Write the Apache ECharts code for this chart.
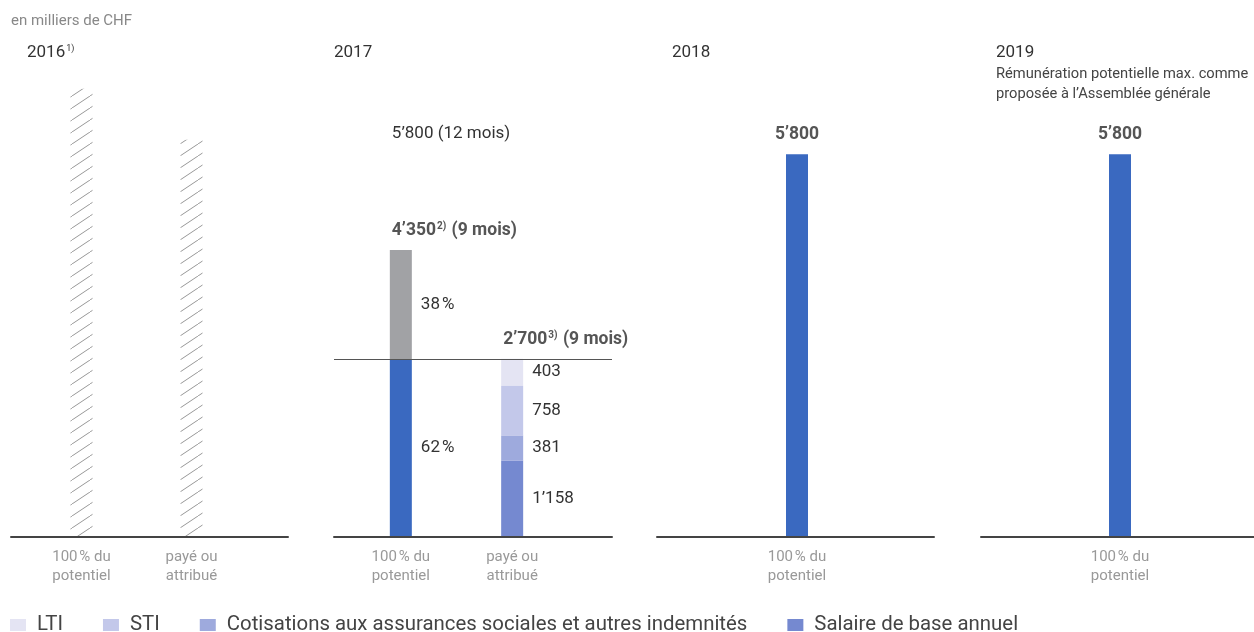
<!DOCTYPE html>
<html>
<head>
<meta charset="utf-8">
<script src="https://cdn.jsdelivr.net/npm/echarts@6/dist/echarts.min.js"></script>
<style>
  html, body { margin: 0; padding: 0; background: #fff; }
  #chart { width: 1254px; height: 632px; }
</style>
</head>
<body>
<div id="chart"></div>
<script>
// categories
const catsTwo = ['100\u202F% du\npotentiel', '', 'payé ou\nattribué'];
const catsOne = ['100\u202F% du\npotentiel'];

// 2016 (hachuré)
const hatch2016 = [6790, null, 6020];

// 2017 potentiel (base / variable) et payé
const potBase2017 = [2697, null, null];
const potVar2017 = [1653, null, null];
const full2017 = [5800, null, null];
const paidSalaire = [null, null, 1158];
const paidCotis = [null, null, 381];
const paidSTI = [null, null, 758];
const paidLTI = [null, null, 403];
const notes2017 = ['2)', '', '3)'];

// 2018 / 2019
const pot2018 = [5800];
const pot2019 = [5800];

const legendNames = ['LTI', 'STI', 'Cotisations aux assurances sociales et autres indemnités', 'Salaire de base annuel'];

const FONT = 'Roboto';
const Y_MAX = 7000;

function fmt(v) {
    return String(v).replace(/\B(?=(\d{3})+(?!\d))/g, '\u2019');
}

// totaux calculés à partir des données
const totals2017 = [0, 1, 2].map(i => {
    const parts = [potBase2017[i], potVar2017[i], paidSalaire[i], paidCotis[i], paidSTI[i], paidLTI[i]];
    const vals = parts.filter(v => v != null);
    return vals.length ? vals.reduce((a, b) => a + b, 0) : null;
});
const paidTotal = totals2017[2];

// motif hachuré
const hatch = document.createElement('canvas');
hatch.width = 18;
hatch.height = 12;
const hctx = hatch.getContext('2d');
hctx.strokeStyle = '#999';
hctx.lineWidth = 1;
hctx.beginPath();
hctx.moveTo(0, 12);
hctx.lineTo(18, 0);
hctx.stroke();

const TOP = 75, HEIGHT = 462;
const grids = [
    {left: 11, width: 277},   // 0 axe 2016
    {left: 54, width: 165},   // 1 barres 2016
    {left: 334, width: 278},  // 2 axe 2017
    {left: 373, width: 167},  // 3 barres 2017
    {left: 657, width: 277},  // 4 axe 2018
    {left: 747, width: 100},  // 5 barres 2018
    {left: 981, width: 273},  // 6 axe 2019
    {left: 1070, width: 100}  // 7 barres 2019
].map(g => Object.assign({top: TOP, height: HEIGHT}, g));

const xAxes = [];
const yAxes = [];
grids.forEach((g, i) => {
    const isAxis = i % 2 === 0;
    if (isAxis) {
        xAxes.push({
            gridIndex: i, type: 'category', data: [''], z: 5,
            axisLine: {lineStyle: {color: '#444', width: 2}},
            axisTick: {show: false}, axisLabel: {show: false}
        });
    } else {
        xAxes.push({
            gridIndex: i, type: 'category',
            data: (i === 1 || i === 3) ? catsTwo : catsOne,
            axisLine: {show: false}, axisTick: {show: false},
            axisLabel: {color: '#999', fontSize: 15, lineHeight: 19, margin: 11, fontFamily: FONT, interval: 0}
        });
    }
    yAxes.push({gridIndex: i, type: 'value', min: 0, max: Y_MAX, show: false});
});

const valLabel = {fontFamily: FONT, fontSize: 17, color: '#333'};
const boldLabel = {fontFamily: FONT, fontSize: 17.5, fontWeight: 'bold', color: '#555'};

const pctFmt = p => Math.round(p.value / totals2017[p.dataIndex] * 100) + '\u202F%';

const seg = (name, data, color, fmtFn) => ({
    name, type: 'bar', xAxisIndex: 3, yAxisIndex: 3, stack: 'a', barWidth: 22, barGap: '-100%',
    data, itemStyle: {color},
    label: Object.assign({show: true, position: 'right', distance: 9, formatter: fmtFn || (p => fmt(p.value))}, valLabel)
});

const series = [
    // 2016
    {
        type: 'bar', xAxisIndex: 1, yAxisIndex: 1, barWidth: 22, data: hatch2016,
        itemStyle: {color: {image: hatch, repeat: 'repeat'}}
    },
    // 2017 ligne de référence
    {
        type: 'line', xAxisIndex: 2, yAxisIndex: 2, data: [],
        markLine: {
            silent: true, symbol: 'none', label: {show: false},
            lineStyle: {color: '#555', width: 1, type: 'solid'},
            data: [{yAxis: paidTotal}]
        }
    },
    // 2017 potentiel
    seg('base', potBase2017, '#3a69c0', pctFmt),
    seg('variable', potVar2017, '#a1a2a5', pctFmt),
    // 2017 payé
    seg(legendNames[3], paidSalaire, '#7589d0'),
    seg(legendNames[2], paidCotis, '#9eaadd'),
    seg(legendNames[1], paidSTI, '#c3c8ea'),
    seg(legendNames[0], paidLTI, '#e4e4f3'),
    // totaux (barre de hauteur nulle au sommet de la pile)
    {
        name: 'total', type: 'bar', xAxisIndex: 3, yAxisIndex: 3, stack: 'a', barWidth: 22, barGap: '-100%',
        data: totals2017.map(t => t == null ? null : 0),
        itemStyle: {color: 'transparent'},
        label: {
            show: true, position: [2, -19], align: 'left', verticalAlign: 'middle',
            formatter: p => '{b|' + fmt(totals2017[p.dataIndex]) + '}{s|' + notes2017[p.dataIndex] + '}{b| (9 mois)}',
            rich: {
                b: boldLabel,
                s: {fontFamily: FONT, fontSize: 10, fontWeight: 'bold', color: '#555', verticalAlign: 'top', padding: [0, 1, 8, 1]}
            }
        }
    },
    // 2017 12 mois (invisible)
    {
        type: 'bar', xAxisIndex: 3, yAxisIndex: 3, barWidth: 22, barGap: '-100%', data: full2017,
        itemStyle: {color: 'transparent'},
        label: Object.assign({show: true, position: [2, -20], align: 'left', verticalAlign: 'middle',
            formatter: p => fmt(p.value) + ' (12 mois)'}, valLabel)
    },
    // 2018, 2019
    ...[[5, pot2018], [7, pot2019]].map(([gi, d]) => ({
        type: 'bar', xAxisIndex: gi, yAxisIndex: gi, barWidth: 22, data: d,
        itemStyle: {color: '#3a69c0'},
        label: Object.assign({show: true, position: 'top', distance: 11, formatter: p => fmt(p.value)}, boldLabel)
    }))
];

const yearRich = {
    y: {fontFamily: FONT, fontSize: 17, fontWeight: 'normal', color: '#333'},
    s: {fontFamily: FONT, fontSize: 9, fontWeight: 'normal', color: '#333', verticalAlign: 'top', padding: [0, 0, 8, 1]}
};

const option = {
    animation: false,
    title: [
        {text: 'en milliers de CHF', left: 11, top: 14, padding: 0,
            textStyle: {fontFamily: FONT, fontSize: 15, fontWeight: 'normal', color: '#888'}},
        {text: '{y|2016}{s|1)}', left: 27, top: 44, padding: 0, textStyle: {fontWeight: 'normal', rich: yearRich}},
        {text: '{y|2017}', left: 334, top: 44, padding: 0, textStyle: {fontWeight: 'normal', rich: yearRich}},
        {text: '{y|2018}', left: 672, top: 44, padding: 0, textStyle: {fontWeight: 'normal', rich: yearRich}},
        {text: '{y|2019}', left: 996, top: 44, padding: 0, textStyle: {fontWeight: 'normal', rich: yearRich}},
        {text: 'Rémunération potentielle max. comme\nproposée à l\u2019Assemblée générale', left: 996, top: 64, padding: 0,
            textStyle: {fontFamily: FONT, fontSize: 14.7, fontWeight: 'normal', color: '#444', lineHeight: 20}}
    ],
    legend: {
        data: legendNames, left: 10, top: 615, padding: 0,
        icon: 'rect', itemWidth: 16, itemHeight: 12, itemGap: 40,
        selectedMode: false,
        textStyle: {fontFamily: FONT, fontSize: 20.4, color: '#444', padding: [0, 0, 0, 6]}
    },
    grid: grids,
    xAxis: xAxes,
    yAxis: yAxes,
    series
};

const chart = echarts.init(document.getElementById('chart'));
chart.setOption(option);
</script>
</body>
</html>
